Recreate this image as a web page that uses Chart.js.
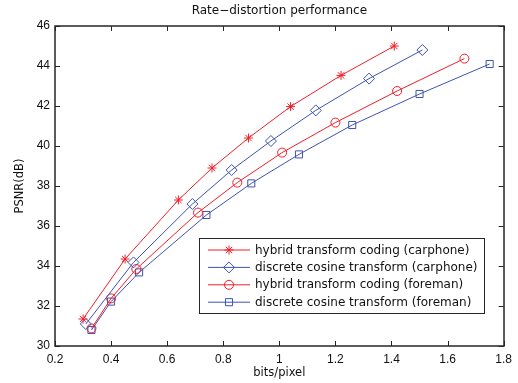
<!DOCTYPE html>
<html>
<head>
<meta charset="utf-8">
<script src="https://cdn.jsdelivr.net/npm/chart.js@4.4.1/dist/chart.umd.min.js"></script>
<style>
  html, body { margin: 0; padding: 0; background: #fff; }
</style>
</head>
<body>
<canvas id="rdChart" width="518" height="383"></canvas>
<script>
// values
const hybridCarphoneX = [0.30, 0.45, 0.64, 0.76, 0.89, 1.04, 1.22, 1.41];
const hybridCarphoneY = [31.35, 34.35, 37.3, 38.9, 40.4, 41.97, 43.53, 45.0];
const dctCarphoneX = [0.31, 0.48, 0.69, 0.83, 0.97, 1.13, 1.32, 1.51];
const dctCarphoneY = [31.1, 34.18, 37.1, 38.8, 40.25, 41.78, 43.37, 44.8];
const hybridForemanX = [0.33, 0.40, 0.49, 0.71, 0.85, 1.01, 1.20, 1.42, 1.66];
const hybridForemanY = [30.88, 32.38, 33.85, 36.67, 38.17, 39.67, 41.17, 42.75, 44.37];
const dctForemanX = [0.33, 0.40, 0.50, 0.74, 0.90, 1.07, 1.26, 1.50, 1.75];
const dctForemanY = [30.8, 32.22, 33.68, 36.55, 38.13, 39.58, 41.05, 42.6, 44.1];

const seriesLabels = [
    'hybrid transform coding (carphone)',
    'discrete cosine transform (carphone)',
    'hybrid transform coding (foreman)',
    'discrete cosine transform (foreman)'
];
const xTicks = [0.2, 0.4, 0.6, 0.8, 1, 1.2, 1.4, 1.6, 1.8];
const yTicks = [30, 32, 34, 36, 38, 40, 42, 44, 46];

const RED = 'rgb(240, 30, 40)';
const BLUE = 'rgb(62, 82, 176)';
const AXIS = '#262626';
const FONT = 'Liberation Sans, Arial, Helvetica, sans-serif';
const WIDE_FONT = 'DejaVu Sans, Verdana, sans-serif';

function pairs(xs, ys) {
    return xs.map((x, i) => ({ x: x, y: ys[i] }));
}

function series(label, xs, ys, color, style, radius) {
    return {
        label: label,
        data: pairs(xs, ys),
        borderColor: color,
        backgroundColor: 'rgba(0,0,0,0)',
        borderWidth: 1,
        pointStyle: style,
        pointRadius: radius,
        pointBorderWidth: 1,
        pointBorderColor: color,
        pointBackgroundColor: 'rgba(0,0,0,0)',
        tension: 0,
        fill: false
    };
}

// box, inward ticks, title and the legend drawn the MATLAB way
const matlabFrame = {
    id: 'matlabFrame',
    afterDraw(chart) {
        const ctx = chart.ctx;
        const a = chart.chartArea;
        const xs = chart.scales.x;
        const ys = chart.scales.y;
        ctx.save();
        ctx.strokeStyle = AXIS;
        ctx.lineWidth = 1;
        ctx.beginPath();
        xTicks.forEach(v => {
            const px = Math.round(xs.getPixelForValue(v)) + 0.5;
            ctx.moveTo(px, a.bottom); ctx.lineTo(px, a.bottom - 5);
            ctx.moveTo(px, a.top); ctx.lineTo(px, a.top + 5);
        });
        yTicks.forEach(v => {
            const py = Math.round(ys.getPixelForValue(v)) + 0.5;
            ctx.moveTo(a.left, py); ctx.lineTo(a.left + 5, py);
            ctx.moveTo(a.right, py); ctx.lineTo(a.right - 5, py);
        });
        ctx.stroke();
        ctx.lineWidth = 1.5;
        ctx.strokeRect(Math.round(a.left), Math.round(a.top), Math.round(a.right - a.left), Math.round(a.bottom - a.top));

        // title
        ctx.fillStyle = '#111';
        ctx.font = '12px ' + WIDE_FONT;
        ctx.textAlign = 'center';
        ctx.textBaseline = 'middle';
        ctx.fillText('Rate\u2212distortion performance', (a.left + a.right) / 2, 11);

        // legend
        const bx = 199.5, by = 238.5, bw = 285, bh = 75;
        ctx.fillStyle = '#fff';
        ctx.fillRect(bx, by, bw, bh);
        ctx.strokeStyle = AXIS;
        ctx.lineWidth = 1;
        ctx.strokeRect(bx, by, bw, bh);
        ctx.font = '12px ' + WIDE_FONT;
        ctx.textAlign = 'left';
        chart.data.datasets.forEach((ds, i) => {
            const ry = 250 + i * 17.4;
            ctx.strokeStyle = ds.borderColor;
            ctx.lineWidth = 1;
            ctx.beginPath();
            ctx.moveTo(208, ry); ctx.lineTo(250, ry);
            ctx.stroke();
            ctx.fillStyle = 'rgba(0,0,0,0)';
            Chart.helpers.drawPoint(ctx, {
                pointStyle: ds.pointStyle,
                radius: ds.pointRadius,
                rotation: 0,
                borderWidth: 1
            }, 229, ry);
            ctx.fillStyle = '#111';
            ctx.fillText(seriesLabels[i], 255, ry + 0.5);
        });
        ctx.restore();
    }
};

new Chart(document.getElementById('rdChart'), {
    type: 'line',
    data: {
        datasets: [
            series(seriesLabels[0], hybridCarphoneX, hybridCarphoneY, RED, 'star', 4.5),
            series(seriesLabels[1], dctCarphoneX, dctCarphoneY, BLUE, 'rectRot', 5.5),
            series(seriesLabels[2], hybridForemanX, hybridForemanY, RED, 'circle', 4.5),
            series(seriesLabels[3], dctForemanX, dctForemanY, BLUE, 'rect', 5)
        ]
    },
    options: {
        responsive: false,
        animation: false,
        events: [],
        layout: { padding: { top: 26, right: 13, left: 0, bottom: 0 } },
        scales: {
            x: {
                type: 'linear',
                min: 0.2,
                max: 1.8,
                afterBuildTicks: s => { s.ticks = xTicks.map(v => ({ value: v })); },
                afterFit: s => { s.height = 37; },
                grid: { display: false, drawTicks: false },
                border: { display: false },
                ticks: {
                    color: '#111',
                    padding: 6,
                    font: { family: FONT, size: 12 },
                    callback: v => String(+v.toFixed(1))
                },
                title: {
                    display: true,
                    text: 'bits/pixel',
                    color: '#111',
                    font: { family: WIDE_FONT, size: 11.5 },
                    padding: { top: 0, bottom: 3 }
                }
            },
            y: {
                type: 'linear',
                min: 30,
                max: 46,
                afterBuildTicks: s => { s.ticks = yTicks.map(v => ({ value: v })); },
                afterFit: s => { s.width = 55; },
                grid: { display: false, drawTicks: false },
                border: { display: false },
                ticks: {
                    color: '#111',
                    padding: 5,
                    font: { family: FONT, size: 12 }
                },
                title: {
                    display: true,
                    text: 'PSNR(dB)',
                    color: '#111',
                    font: { family: WIDE_FONT, size: 11.5 },
                    padding: { top: 13, bottom: 0 }
                }
            }
        },
        plugins: {
            legend: { display: false },
            tooltip: { enabled: false }
        }
    },
    plugins: [matlabFrame]
});
</script>
</body>
</html>
